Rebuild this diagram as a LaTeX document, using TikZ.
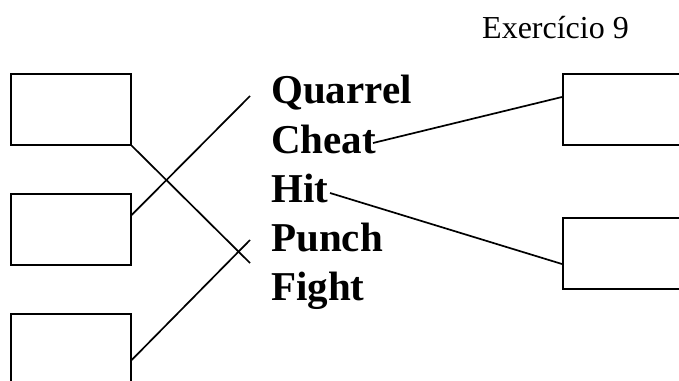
\documentclass[tikz,border=0pt]{standalone}
\usepackage{fontspec}
\setmainfont{Liberation Serif}
\begin{document}
\begin{tikzpicture}[x=1pt,y=-1pt,
  box/.style={draw,line width=1.7pt,minimum width=120pt,minimum height=71pt,inner sep=0pt,anchor=north west},
  word/.style={font=\fontsize{41}{41}\selectfont\bfseries,inner sep=0pt,anchor=base west},
  conn/.style={line width=1.7pt}]
\useasboundingbox (0,0) rectangle (679,380);
\begin{scope}
\clip (0,0) rectangle (679,380);
\node[box] (L1) at (10,73) {};
\node[box] (L2) at (10,193) {};
\node[box] (L3) at (10,313) {};
\node[box] (R1) at (562,73) {};
\node[box] (R2) at (562,217) {};
\node[word] (w1) at (271,103) {Quarrel};
\node[word] (w2) at (271,153) {Cheat};
\node[word] (w3) at (271,202) {Hit};
\node[word] (w4) at (271,251) {Punch};
\node[word] (w5) at (271,300) {Fight};
\node[font=\fontsize{32}{32}\selectfont,inner sep=0pt,anchor=base west] (t) at (482,38) {Exercício 9};
\coordinate (a) at (250,263);
\coordinate (b) at (250,96);
\coordinate (c) at (250,240);
\coordinate (d) at (373,143);
\coordinate (e) at (330,193);
\draw[conn] (L1.south east) -- (a);
\draw[conn] (L2.east |- 0,215) -- (b);
\draw[conn] (L3.east |- 0,360) -- (c);
\draw[conn] (d) -- (R1.west |- 0,97);
\draw[conn] (e) -- (R2.west |- 0,264);
\end{scope}
\end{tikzpicture}
\end{document}
